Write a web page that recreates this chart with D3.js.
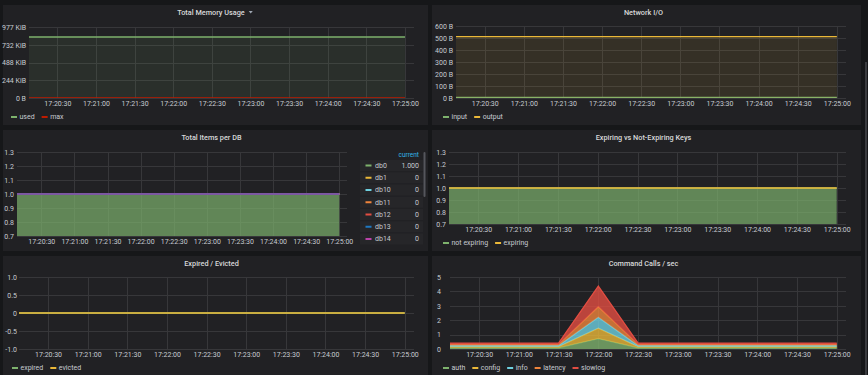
<!DOCTYPE html>
<html>
<head>
<meta charset="utf-8">
<script src="https://cdn.jsdelivr.net/npm/d3@7"></script>
<style>
  body { margin: 0; background: #161719; overflow: hidden; }
  svg { display: block; font-family: Roboto, "Noto Sans", sans-serif; }
</style>
</head>
<body>
<svg id="dash" width="868" height="375"></svg>
<script>
const parseTime = d3.timeParse('%H:%M:%S');

// time range + samples
const timeRange = ['17:20:08', '17:25:07'];
const xTickLabels = ['17:20:30', '17:21:00', '17:21:30', '17:22:00', '17:22:30',
  '17:23:00', '17:23:30', '17:24:00', '17:24:30', '17:25:00'];
const sampleTimes = ['17:20:08', '17:20:30', '17:21:00', '17:21:30', '17:22:00', '17:22:30',
  '17:23:00', '17:23:30', '17:24:00', '17:24:30', '17:25:00'];

// Total Memory Usage (bytes)
const memUsed = [859000, 859000, 859000, 859000, 859000, 859000, 859000, 859000, 859000, 859000, 859000];
const memMax = [0, 0, 0, 0, 0, 0, 0, 0, 0, 0, 0];
const memTicks = [0, 250000, 500000, 750000, 1000000];
const memTickLabels = ['0 B', '244 KiB', '488 KiB', '732 KiB', '977 KiB'];

// Network I/O (bytes)
const netInput = [6, 6, 6, 6, 6, 6, 6, 6, 6, 6, 6];
const netOutput = [512, 512, 512, 512, 512, 512, 512, 512, 512, 512, 512];
const netTicks = [0, 100, 200, 300, 400, 500, 600];
const netTickLabels = ['0 B', '100 B', '200 B', '300 B', '400 B', '500 B', '600 B'];

// Total Items per DB
const dbNames = ['db0', 'db1', 'db10', 'db11', 'db12', 'db13', 'db14', 'db15'];
const dbCurrent = ['1.000', '0', '0', '0', '0', '0', '0', '0'];
const dbValues = [
  [1, 1, 1, 1, 1, 1, 1, 1, 1, 1, 1],
  [0, 0, 0, 0, 0, 0, 0, 0, 0, 0, 0],
  [0, 0, 0, 0, 0, 0, 0, 0, 0, 0, 0],
  [0, 0, 0, 0, 0, 0, 0, 0, 0, 0, 0],
  [0, 0, 0, 0, 0, 0, 0, 0, 0, 0, 0],
  [0, 0, 0, 0, 0, 0, 0, 0, 0, 0, 0],
  [0, 0, 0, 0, 0, 0, 0, 0, 0, 0, 0],
  [0, 0, 0, 0, 0, 0, 0, 0, 0, 0, 0]
];
const unitTicks = [0.7, 0.8, 0.9, 1.0, 1.1, 1.2, 1.3];
const unitTickLabels = ['0.7', '0.8', '0.9', '1.0', '1.1', '1.2', '1.3'];

// Expiring vs Not-Expiring Keys
const keysNotExpiring = [1, 1, 1, 1, 1, 1, 1, 1, 1, 1, 1];
const keysExpiring = [0, 0, 0, 0, 0, 0, 0, 0, 0, 0, 0];

// Expired / Evicted
const keysExpired = [0, 0, 0, 0, 0, 0, 0, 0, 0, 0, 0];
const keysEvicted = [0, 0, 0, 0, 0, 0, 0, 0, 0, 0, 0];
const evTicks = [-1, -0.5, 0, 0.5, 1];
const evTickLabels = ['-1.0', '-0.5', '0', '0.5', '1.0'];

// Command Calls / sec
const cmdAuth = [0.08, 0.08, 0.08, 0.08, 0.72, 0.08, 0.08, 0.08, 0.08, 0.08, 0.08];
const cmdConfig = [0.08, 0.08, 0.08, 0.08, 0.72, 0.08, 0.08, 0.08, 0.08, 0.08, 0.08];
const cmdInfo = [0.08, 0.08, 0.08, 0.08, 0.76, 0.08, 0.08, 0.08, 0.08, 0.08, 0.08];
const cmdLatency = [0.08, 0.08, 0.08, 0.08, 0.74, 0.08, 0.08, 0.08, 0.08, 0.08, 0.08];
const cmdSlowlog = [0.09, 0.09, 0.09, 0.09, 1.43, 0.09, 0.09, 0.09, 0.09, 0.09, 0.09];
const cmdTicks = [0, 1, 2, 3, 4, 5];
const cmdTickLabels = ['0', '1', '2', '3', '4', '5'];

const palette = ['#7eb26d', '#eab839', '#6ed0e0', '#ef843c', '#e24d42', '#1f78c1', '#ba43a9', '#705da0'];

const svg = d3.select('#dash');
const times = sampleTimes.map(parseTime);
const xTickDates = xTickLabels.map(parseTime);
const fmtTime = d3.timeFormat('%H:%M:%S');

function drawPanel(p, idx) {
  const g = svg.append('g');
  g.append('rect')
    .attr('x', p.box[0]).attr('y', p.box[1])
    .attr('width', p.box[2]).attr('height', p.box[3])
    .attr('fill', '#212124');

  const title = g.append('text')
    .attr('x', p.titleX).attr('y', p.box[1] + 7)
    .attr('dy', '0.35em')
    .attr('text-anchor', 'middle')
    .attr('font-size', 7.3).attr('font-weight', 500)
    .attr('fill', '#d8d9da')
    .text(p.title);

  if (p.caret) {
    const cx = p.titleX + title.node().getComputedTextLength() / 2 + 6, cy = p.box[1] + 7;
    g.append('path')
      .attr('d', `M${cx - 2},${cy - 1}L${cx + 2},${cy - 1}L${cx},${cy + 1.5}Z`)
      .attr('fill', '#9fa7b3');
  }

  const x = d3.scaleTime().domain(timeRange.map(parseTime)).range([p.plot.l, p.plot.r]);
  const y = d3.scaleLinear().domain(p.yDomain).range([p.plot.b, p.plot.t]);

  // grid
  g.append('g').selectAll('line').data(p.yTicks).join('line')
    .attr('x1', p.plot.l).attr('x2', p.plot.r)
    .attr('y1', d => Math.round(y(d)) + 0.5).attr('y2', d => Math.round(y(d)) + 0.5)
    .attr('stroke', '#37373a').attr('stroke-width', 1);
  g.append('g').selectAll('line').data(xTickDates).join('line')
    .attr('x1', d => Math.round(x(d)) + 0.5).attr('x2', d => Math.round(x(d)) + 0.5)
    .attr('y1', p.plot.t).attr('y2', p.plot.b)
    .attr('stroke', '#37373a').attr('stroke-width', 1);

  // axes
  const yAxis = g.append('g')
    .attr('transform', `translate(${p.yLabelX},0)`)
    .call(d3.axisLeft(y).tickValues(p.yTicks).tickFormat((d, i) => p.yTickLabels[i]).tickSize(0).tickPadding(0));
  const xAxis = g.append('g')
    .attr('transform', `translate(0,${p.plot.b})`)
    .call(d3.axisBottom(x).tickValues(xTickDates).tickFormat(fmtTime).tickSize(0).tickPadding(3.5));
  [yAxis, xAxis].forEach(a => {
    a.select('.domain').remove();
    a.selectAll('text').attr('font-size', 7).attr('fill', '#c7cbd1').attr('font-family', 'Roboto, sans-serif');
  });

  // series
  const clipId = 'clip' + idx;
  g.append('clipPath').attr('id', clipId).append('rect')
    .attr('x', p.plot.l).attr('y', p.plot.t - 1)
    .attr('width', p.plot.r - p.plot.l).attr('height', p.plot.b - p.plot.t + 1);
  const plot = g.append('g').attr('clip-path', `url(#${clipId})`);

  const base = times.map(() => 0);
  p.series.forEach(s => {
    const pts = times.map((tm, j) => {
      const y0 = p.stack ? base[j] : 0;
      return { t: tm, y0, y1: y0 + s.values[j] };
    });
    if (p.stack) pts.forEach((d, j) => { base[j] = d.y1; });
    if (p.fill > 0) {
      plot.append('path')
        .datum(pts)
        .attr('d', d3.area().x(d => x(d.t)).y0(d => y(d.y0)).y1(d => y(d.y1)))
        .attr('fill', s.color).attr('fill-opacity', p.fill);
    }
    plot.append('path')
      .datum(pts)
      .attr('d', d3.line().x(d => x(d.t)).y(d => y(d.y1)))
      .attr('fill', 'none').attr('stroke', s.color).attr('stroke-width', 1.3);
  });

  // bottom legend
  if (p.legend) {
    let lx = p.legendX;
    const ly = p.plot.b + 19;
    p.series.forEach(s => {
      g.append('rect').attr('x', lx).attr('y', ly - 1).attr('width', 6).attr('height', 2).attr('fill', s.color);
      const tx = g.append('text').attr('x', lx + 8.5).attr('y', ly).attr('dy', '0.35em')
        .attr('font-size', 7).attr('fill', '#c7cbd1').text(s.name);
      lx += 8.5 + tx.node().getComputedTextLength() + 7;
    });
  }
  return g;
}

const panels = [
  {
    title: 'Total Memory Usage', caret: true, titleX: 211, box: [3, 5, 425, 120],
    plot: { l: 29, t: 27, r: 414, b: 98 }, yLabelX: 26,
    yDomain: [0, 1000000], yTicks: memTicks, yTickLabels: memTickLabels,
    fill: 0.1, stack: false, legend: true, legendX: 11,
    series: [
      { name: 'used', color: '#7eb26d', values: memUsed },
      { name: 'max', color: '#bf1b00', values: memMax }
    ]
  },
  {
    title: 'Network I/O', titleX: 643.5, box: [432, 5, 429, 120],
    plot: { l: 456, t: 26, r: 846, b: 98 }, yLabelX: 453,
    yDomain: [0, 600], yTicks: netTicks, yTickLabels: netTickLabels,
    fill: 0.1, stack: false, legend: true, legendX: 443,
    series: [
      { name: 'input', color: '#7eb26d', values: netInput },
      { name: 'output', color: '#eab839', values: netOutput }
    ]
  },
  {
    title: 'Total Items per DB', titleX: 211.5, box: [3, 130, 425, 121],
    plot: { l: 17, t: 152, r: 347, b: 236 }, yLabelX: 14,
    yDomain: [0.7, 1.3], yTicks: unitTicks, yTickLabels: unitTickLabels,
    fill: 0.7, stack: true, legend: false,
    series: dbNames.map((n, i) => ({ name: n, color: palette[i], values: dbValues[i] }))
  },
  {
    title: 'Expiring vs Not-Expiring Keys', titleX: 643.5, box: [432, 130, 429, 121],
    plot: { l: 449, t: 152, r: 846, b: 224 }, yLabelX: 446,
    yDomain: [0.7, 1.3], yTicks: unitTicks, yTickLabels: unitTickLabels,
    fill: 0.7, stack: true, legend: true, legendX: 443,
    series: [
      { name: 'not expiring', color: '#7eb26d', values: keysNotExpiring },
      { name: 'expiring', color: '#eab839', values: keysExpiring }
    ]
  },
  {
    title: 'Expired / Evicted', titleX: 211.5, box: [3, 256, 425, 125],
    plot: { l: 19, t: 277, r: 414, b: 349 }, yLabelX: 17,
    yDomain: [-1, 1], yTicks: evTicks, yTickLabels: evTickLabels,
    fill: 0, stack: false, legend: true, legendX: 12,
    series: [
      { name: 'expired', color: '#7eb26d', values: keysExpired },
      { name: 'evicted', color: '#eab839', values: keysEvicted }
    ]
  },
  {
    title: 'Command Calls / sec', titleX: 643.5, box: [432, 256, 429, 125],
    plot: { l: 450, t: 277, r: 846, b: 349 }, yLabelX: 441,
    yDomain: [0, 5], yTicks: cmdTicks, yTickLabels: cmdTickLabels,
    fill: 0.8, stack: true, legend: true, legendX: 443,
    series: [
      { name: 'auth', color: '#7eb26d', values: cmdAuth },
      { name: 'config', color: '#eab839', values: cmdConfig },
      { name: 'info', color: '#6ed0e0', values: cmdInfo },
      { name: 'latency', color: '#ef843c', values: cmdLatency },
      { name: 'slowlog', color: '#e24d42', values: cmdSlowlog }
    ]
  }
];

const groups = panels.map(drawPanel);

// legend table for Total Items per DB (first 7 rows visible, rest scrolled)
const tbl = groups[2].append('g');
tbl.append('text').attr('x', 419).attr('y', 154.5).attr('dy', '0.35em')
  .attr('text-anchor', 'end').attr('font-size', 6.5).attr('fill', '#33b5e5').text('current');
const rowY = d3.scalePoint().domain(dbNames.slice(0, 7)).range([165.5, 239]);
const rows = tbl.selectAll('g.row').data(dbNames.slice(0, 7)).join('g').attr('class', 'row')
  .attr('transform', d => `translate(0,${rowY(d)})`);
rows.append('rect').attr('x', 360).attr('y', -5.5).attr('width', 63).attr('height', 11).attr('fill', '#262629');
rows.append('rect').attr('x', 365.5).attr('y', -1).attr('width', 6).attr('height', 2)
  .attr('fill', (d, i) => palette[i]);
rows.append('text').attr('x', 375).attr('dy', '0.35em').attr('font-size', 7).attr('fill', '#c7cbd1').text(d => d);
rows.append('text').attr('x', 419).attr('dy', '0.35em').attr('text-anchor', 'end')
  .attr('font-size', 7).attr('fill', '#c7cbd1').text((d, i) => dbCurrent[i]);
tbl.append('rect').attr('x', 423.5).attr('y', 152).attr('width', 2).attr('height', 45)
  .attr('rx', 1).attr('fill', '#55565c');

// page scrollbar at the right edge
svg.append('rect').attr('x', 865).attr('y', 62).attr('width', 2).attr('height', 313).attr('fill', '#3a3b3f');
</script>
</body>
</html>
